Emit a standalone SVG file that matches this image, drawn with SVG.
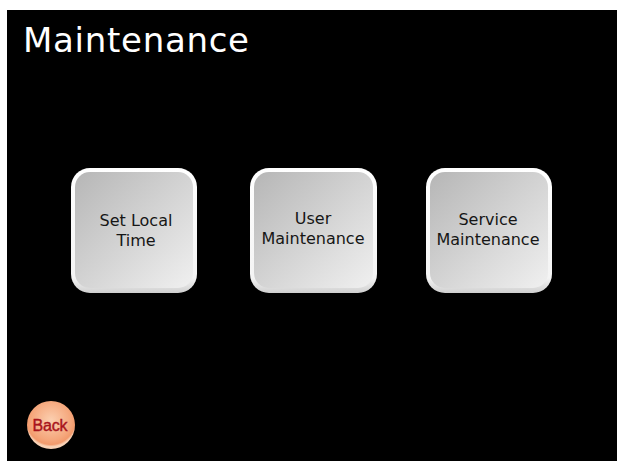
<svg xmlns="http://www.w3.org/2000/svg" width="617" height="466" viewBox="0 0 617 466">
<defs>
<linearGradient id="fillG" x1="0" y1="0" x2="1" y2="1">
<stop offset="0" stop-color="#b6b6b6"/>
<stop offset="1" stop-color="#f0f0f0"/>
</linearGradient>
<linearGradient id="rimG" x1="0" y1="0" x2="0" y2="1">
<stop offset="0" stop-color="#ffffff"/>
<stop offset="0.88" stop-color="#f4f4f4"/>
<stop offset="1" stop-color="#cfcfcf"/>
</linearGradient>
<radialGradient id="backG" cx="0.5" cy="0.4" r="0.55">
<stop offset="0" stop-color="#fbcfb0"/>
<stop offset="0.75" stop-color="#f5a77c"/>
<stop offset="0.92" stop-color="#f29a6c"/>
<stop offset="1" stop-color="#f9d2b6"/>
</radialGradient>
<style>
.rim{fill:url(#rimG);}
.face{fill:url(#fillG);}
.lbl{font-family:"DejaVu Sans","Liberation Sans",sans-serif;font-size:16px;fill:#161616;text-anchor:middle;}
</style>
</defs>
<rect x="0" y="0" width="617" height="466" fill="#ffffff"/>
<rect x="7" y="10" width="610" height="451" fill="#000000"/>
<text x="23" y="52" font-family="DejaVu Sans, Liberation Sans, sans-serif" font-size="34" fill="#ffffff" textLength="226">Maintenance</text>
<g id="node-set-local-time">
<rect class="rim" x="71" y="168" width="126" height="125" rx="19"/>
<rect class="face" x="75" y="172" width="118" height="116" rx="15"/>
<text class="lbl" x="136" y="226">Set Local</text>
<text class="lbl" x="136" y="246">Time</text>
</g>
<g id="node-user-maintenance">
<rect class="rim" x="250" y="168" width="127" height="125" rx="19"/>
<rect class="face" x="254" y="172" width="119" height="116" rx="15"/>
<text class="lbl" x="313" y="224">User</text>
<text class="lbl" x="313" y="244">Maintenance</text>
</g>
<g id="node-service-maintenance">
<rect class="rim" x="426" y="168" width="126" height="125" rx="19"/>
<rect class="face" x="430" y="172" width="118" height="116" rx="15"/>
<text class="lbl" x="488" y="225">Service</text>
<text class="lbl" x="488" y="245">Maintenance</text>
</g>
<g id="node-back">
<circle cx="51" cy="425" r="24" fill="url(#backG)"/>
<text x="50" y="431" font-family="Liberation Sans, Arial, sans-serif" font-size="16" fill="#a8141c" stroke="#a8141c" stroke-width="0.4" text-anchor="middle" textLength="35">Back</text>
</g>
<g id="connectors"></g>
</svg>
